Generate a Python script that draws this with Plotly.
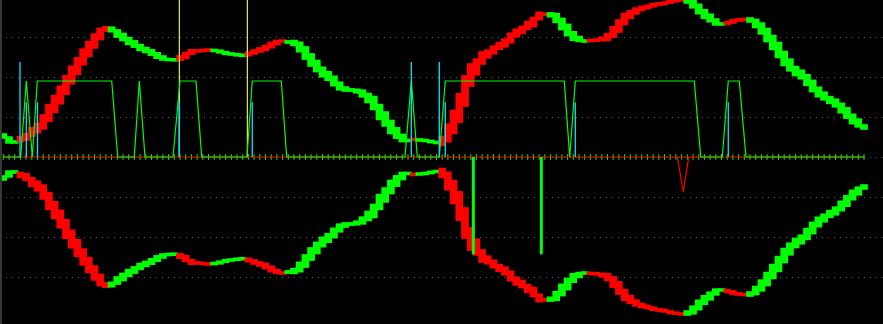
import numpy as np
import plotly.graph_objects as go

# ---------------- data ----------------
# smoothed oscillator value per bar (top panel); bottom panel is its mirror
osc = [21, 17, 15, 18, 20, 25, 29, 35, 44, 53, 62, 72, 82, 91, 100, 108, 116, 123, 128, 127.5,
       123.5, 120, 116, 113, 109.5, 107, 104.5, 101.5, 99, 97.5, 97.2, 99, 101.5, 105, 106, 106.5,
       107, 106.5, 105.5, 104, 103, 102.2, 101.7, 103, 105, 107, 109, 112, 114.5, 116, 115, 114,
       110, 104, 97, 91, 85, 81, 76, 71, 68, 67, 66, 63.5, 59, 54, 45, 38, 30, 24, 19, 16.5, 17.5,
       17, 16.5, 15.5, 14.5, 16, 24, 35, 49, 66, 82, 90, 99, 103, 107, 111, 114, 119, 124, 127,
       131.5, 135, 141, 142.8, 142.2, 139, 133, 127, 121, 118, 116, 116.4, 116.8, 118, 120, 125,
       131, 138, 142.5, 146, 148.5, 150, 151.7, 153, 153.7, 155.3, 156.2, 157, 156, 153, 148, 143,
       139, 135, 133, 134, 135.5, 137, 137.5, 137, 133.5, 128.5, 122, 114.5, 107, 98.5, 92, 86,
       82.5, 77, 71, 65, 61, 57, 54, 49, 44, 38, 34, 30]

# signal line (0-100 scale): time in bars, level
sig_t = [0, 3.05, 4.04, 5.09, 5.96, 19.02, 20.07, 22.98, 23.86, 24.86, 29.77, 31.0, 33.81, 34.81,
         42.75, 43.68, 48.77, 49.72, 70.47, 71.58, 72.63, 76.49, 77.54, 98.42, 99.37, 100.35,
         121.23, 122.35, 126.14, 127.19, 129.12, 130.30, 151]
sig_v = [0, 0, 100, 0, 100, 100, 0, 0, 100, 0, 0, 100, 100, 0,
         0, 100, 100, 0, 0, 100, 0, 0, 100, 100, 0, 100,
         100, 0, 0, 100, 100, 0, 0]

# negative signal (red V in lower panel)
neg_t = [118.25, 119.30, 120.25]
neg_v = [0, -45.7, 0]

# cyan spikes (signal scale)
cyan_t = [2.93, 4.04, 6.0, 30.88, 43.68, 71.58, 76.49, 77.54, 100.35, 127.19]
cyan_v = [125, 72, 72, 72, 72, 125, 125, 72, 72, 72]

# yellow event lines
yel_t = [30.88, 42.81]

# green down bars (signal scale)
gbar_t = [82.46, 94.39]
gbar_v = [-128, -128]

# ---------------- derived bodies ----------------
v = np.array(osc, dtype=float)
n = len(v)
idx = np.arange(n)
prev = np.r_[v[0], v[:-1]]
nxt = np.r_[v[1:], v[-1]]
half = 0.45 * np.abs(nxt - prev) + 1.0
half = np.maximum(half, 1.8)
lo = v - half
hi = v + half
colors = ["#FF0000" if (i > 0 and v[i] > v[i - 1]) else "#00FF00" for i in range(n)]

RED = "#FF0000"
LIME = "#00FF00"

fig = go.Figure()

# top body
fig.add_trace(go.Bar(x=idx, y=hi - lo, base=lo, width=1.35,
                     marker=dict(color=colors, line=dict(width=0)), hoverinfo="skip"))
# bottom mirror body
fig.add_trace(go.Bar(x=idx, y=hi - lo, base=-hi, width=1.35,
                     marker=dict(color=colors, line=dict(width=0)), hoverinfo="skip"))

# signal line
fig.add_trace(go.Scatter(x=sig_t, y=sig_v, mode="lines", yaxis="y2",
                         line=dict(color=LIME, width=1.2), hoverinfo="skip"))

# cyan spikes
cx, cy = [], []
for t, h in zip(cyan_t, cyan_v):
    cx += [t, t, None]
    cy += [0, h, None]
fig.add_trace(go.Scatter(x=cx, y=cy, mode="lines", yaxis="y2",
                         line=dict(color="#00E5FF", width=1.3), hoverinfo="skip"))

# yellow lines
yx, yy = [], []
for t in yel_t:
    yx += [t, t, None]
    yy += [0, 170, None]
fig.add_trace(go.Scatter(x=yx, y=yy, mode="lines",
                         line=dict(color="#FFFF70", width=1.1), hoverinfo="skip"))
# redraw cyan at yellow-line location on top
fig.add_trace(go.Scatter(x=[cyan_t[3], cyan_t[3]], y=[0, cyan_v[3]], mode="lines", yaxis="y2",
                         line=dict(color="#00E5FF", width=1.3), hoverinfo="skip"))

# green down bars
gx, gy = [], []
for t, h in zip(gbar_t, gbar_v):
    gx += [t, t, None]
    gy += [0, h, None]
fig.add_trace(go.Scatter(x=gx, y=gy, mode="lines", yaxis="y2",
                         line=dict(color=LIME, width=3), hoverinfo="skip"))

# red V
fig.add_trace(go.Scatter(x=neg_t, y=neg_v, mode="lines", yaxis="y2",
                         line=dict(color=RED, width=1.2), hoverinfo="skip"))

# zero line ticks + red line
fig.add_trace(go.Scatter(x=idx, y=np.zeros(n), mode="markers",
                         marker=dict(symbol="line-ns", size=4, line=dict(color=LIME, width=1)),
                         hoverinfo="skip"))
fig.add_trace(go.Scatter(x=[idx[0], idx[-1]], y=[0, 0], mode="lines",
                         line=dict(color=RED, width=1), hoverinfo="skip"))

px_left, px_step = 3.3, 5.7
xr = [(0 - px_left) / px_step, (883 - px_left) / px_step]
yr = [-167, 157]
sig_scale = 0.76

fig.update_layout(
    width=883, height=324,
    margin=dict(l=0, r=0, t=0, b=0),
    paper_bgcolor="black", plot_bgcolor="black",
    showlegend=False, barmode="overlay",
    xaxis=dict(range=xr, showgrid=False, zeroline=False, showticklabels=False, ticks=""),
    yaxis=dict(range=yr, tickvals=[-120, -80, -40, 0, 40, 80, 120], showgrid=True,
               gridcolor="#5a5a5a", griddash="1px,5px", gridwidth=1,
               zeroline=False, showticklabels=False, ticks=""),
    yaxis2=dict(range=[yr[0] / sig_scale, yr[1] / sig_scale], overlaying="y",
                showgrid=False, zeroline=False, showticklabels=False, ticks=""),
    shapes=[dict(type="line", xref="paper", yref="paper", x0=0.001, x1=0.001, y0=0, y1=1,
                 line=dict(color="#3a3a3a", width=2))],
)

fig.write_html("out.html")
